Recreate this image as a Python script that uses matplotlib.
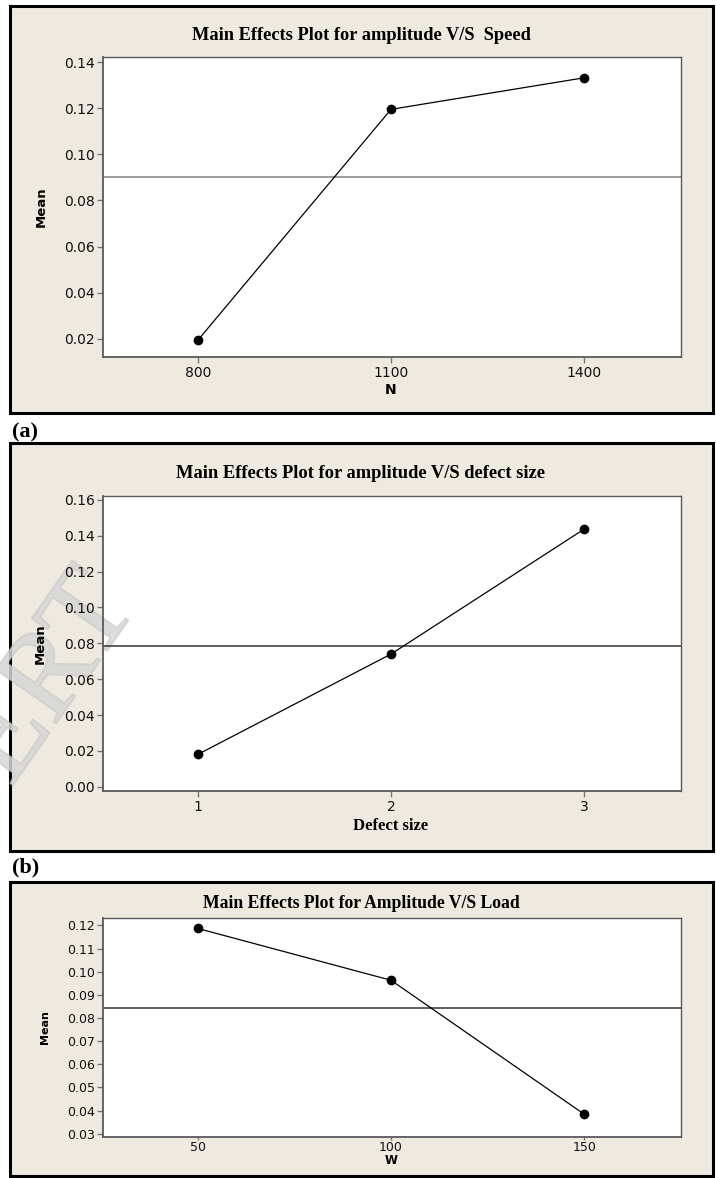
import numpy as np
import matplotlib
matplotlib.use("Agg")
import matplotlib.pyplot as plt
import matplotlib.patheffects as pe
from matplotlib.patches import Rectangle

# --- data ---
speed_levels = [800, 1100, 1400]
speed_mean = [0.0193, 0.1195, 0.1332]
speed_grand = 0.0903

defect_levels = [1, 2, 3]
defect_mean = [0.0180, 0.0740, 0.1438]
defect_grand = 0.0785

load_levels = [50, 100, 150]
load_mean = [0.1187, 0.0963, 0.0384]
load_grand = 0.0842

W, H = 716, 1178
BG = "#eeeae0"
SPINE = "#5a5a5a"

fig = plt.figure(figsize=(W / 100, H / 100), dpi=100)
fig.patch.set_facecolor("white")


def box(x0, y0, x1, y1):
    # rect in pixel coords (top-left origin) -> figure fraction
    return [x0 / W, 1 - y1 / H, (x1 - x0) / W, (y1 - y0) / H]


def panel(frame, ax_px, title, title_y, title_size, levels, means, grand,
          ylim, yticks, xlabel, xlabel_y, xlabel_font, tick_size,
          mean_size, hline_color, xpad=3.5, xlen=4):
    fx0, fy0, fx1, fy1 = frame
    fig.patches.append(Rectangle((fx0 / W, 1 - fy1 / H), (fx1 - fx0) / W,
                                 (fy1 - fy0) / H, transform=fig.transFigure,
                                 facecolor=BG, edgecolor="black", lw=2.2,
                                 zorder=-5))
    ax = fig.add_axes(box(*ax_px))
    ax.set_zorder(1)
    ax.patch.set_alpha(0)
    # white plot area drawn as a figure patch so the watermark can sit between
    fig.patches.append(Rectangle((ax_px[0] / W, 1 - ax_px[3] / H),
                                 (ax_px[2] - ax_px[0]) / W,
                                 (ax_px[3] - ax_px[1]) / H,
                                 transform=fig.transFigure, facecolor="white",
                                 edgecolor="none", zorder=-4))
    ax.axhline(grand, color=hline_color, lw=1.1, zorder=1)
    ax.plot(levels, means, color="black", lw=0.9, marker="o", ms=6,
            zorder=3)
    step = levels[1] - levels[0]
    ax.set_xlim(levels[0] - 0.49 * step, levels[-1] + 0.5 * step)
    ax.set_ylim(*ylim)
    ax.set_xticks(levels)
    ax.set_yticks(yticks)
    ax.set_yticklabels(["{:.2f}".format(v) for v in yticks])
    for s in ax.spines.values():
        s.set_color(SPINE)
        s.set_linewidth(1.0)
    ax.spines["left"].set_linewidth(1.3)
    ax.spines["bottom"].set_linewidth(1.3)
    ax.tick_params(direction="out", length=4, width=1, color="#777777",
                   labelsize=tick_size, labelcolor="#111111", pad=2)
    ax.tick_params(axis="x", pad=xpad, length=xlen)
    ax.set_ylabel("Mean", fontsize=mean_size, fontweight="bold",
                  family="DejaVu Sans", labelpad=12)
    fig.text(361 / W, 1 - title_y / H, title,
             ha="center", va="center", family="Liberation Serif",
             fontweight="bold", fontsize=title_size, zorder=6)
    fig.text(391 / W, 1 - xlabel_y / H, xlabel, ha="center", va="center",
             fontweight="bold", zorder=6, **xlabel_font)
    return ax


panel((10, 6, 713, 413), (103, 57, 681, 357),
      "Main Effects Plot for amplitude V/S  Speed", 35, 13.2,
      speed_levels, speed_mean, speed_grand,
      (0.0121, 0.1422), [0.02, 0.04, 0.06, 0.08, 0.10, 0.12, 0.14],
      "N", 390, dict(family="DejaVu Sans", fontsize=10), 10, 9.5, "#7f7f7f",
      xpad=2.5)

fig.text(12 / W, 1 - 432 / H, "(a)", ha="left", va="center",
         family="Liberation Serif", fontweight="bold", fontsize=16)

panel((10, 443, 713, 851), (103, 496, 681, 791),
      "Main Effects Plot for amplitude V/S defect size", 473, 13.3,
      defect_levels, defect_mean, defect_grand,
      (-0.0024, 0.1622), [0.00, 0.02, 0.04, 0.06, 0.08, 0.10, 0.12,
                          0.14, 0.16],
      "Defect size", 826, dict(family="Liberation Serif", fontsize=12),
      10, 9.5, "#333333", xpad=2.5)

fig.text(12 / W, 1 - 867 / H, "(b)", ha="left", va="center",
         family="Liberation Serif", fontweight="bold", fontsize=16)

panel((10, 882, 713, 1176), (103, 918, 681, 1137),
      "Main Effects Plot for Amplitude V/S Load", 904, 12.7,
      load_levels, load_mean, load_grand,
      (0.0286, 0.1232), [0.03, 0.04, 0.05, 0.06, 0.07, 0.08, 0.09, 0.10,
                         0.11, 0.12],
      "W", 1161, dict(family="DejaVu Sans", fontsize=8.5), 9, 8, "#333333",
      xpad=0.5, xlen=2.5)

# faint watermark on the left of the middle panel
fig.text(139 / W, 1 - 605 / H, "IJERT", rotation=55, rotation_mode="anchor",
         ha="right", va="baseline", family="Liberation Serif", fontsize=88,
         color="#d6d6d6", alpha=0.6,
         path_effects=[pe.withStroke(linewidth=1.5, foreground="#c2c2c2")],
         zorder=-3)

fig.savefig("out.png", dpi=100)
